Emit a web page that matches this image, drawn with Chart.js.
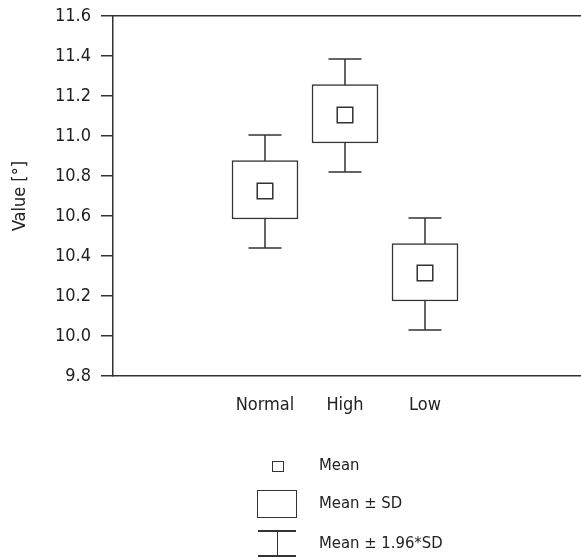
<!DOCTYPE html>
<html>
    <head>
        <meta charset="UTF-8">
        <script src="https://cdn.jsdelivr.net/npm/chart.js@4.4.1/dist/chart.umd.min.js"></script>
        <title> Value by group </title>
        <style>
            html, body { margin: 0; padding: 0; background: #fff; }
            .wrap { position: relative; width: 581px; height: 558px; overflow: hidden; }
            .legend { position: absolute; left: 0; top: 0; width: 581px; height: 558px; pointer-events: none;
                      font-family: 'Liberation Sans Narrow', 'DejaVu Sans Condensed', sans-serif; font-size: 16.5px; color: #222; }
            .legend .lbl { position: absolute; left: 319px; line-height: 18px; }
            .legend .sym { position: absolute; box-sizing: border-box; border: 1.5px solid #333; }
            .legend .ln { position: absolute; background: #333; }
        </style>
    </head>

    <body>
        <div class="wrap">
            <canvas id="main-plot" width="581" height="558"></canvas>

            <!-- legenda desenhada em HTML -->
            <div class="legend">
                <div class="sym" style="left:272px; top:461px; width:12px; height:11px;"></div>
                <div class="lbl" style="top:456px;">Mean</div>

                <div class="sym" style="left:257px; top:490px; width:40px; height:28px;"></div>
                <div class="lbl" style="top:494px;">Mean ± SD</div>

                <div class="ln" style="left:258px; top:530px; width:38px; height:1.5px;"></div>
                <div class="ln" style="left:276.5px; top:530px; width:1.5px; height:26px;"></div>
                <div class="ln" style="left:258px; top:555px; width:38px; height:1.5px;"></div>
                <div class="lbl" style="top:534px;">Mean ± 1.96*SD</div>
            </div>
        </div>

        <script>
            // valores
            const groups      = ['Normal', 'High', 'Low'];
            const positions   = [1, 2, 3];
            const means       = [10.725, 11.105, 10.315];
            const sdLow       = [10.585, 10.965, 10.175];
            const sdHigh      = [10.877, 11.257, 10.462];
            const whiskerLow  = [10.440, 10.820, 10.030];
            const whiskerHigh = [11.005, 11.385, 10.590];
            const yTicks      = [9.8, 10.0, 10.2, 10.4, 10.6, 10.8, 11.0, 11.2, 11.4, 11.6];

            const FONT = "'Liberation Sans Narrow', 'DejaVu Sans Condensed', sans-serif";
            const INK  = '#333';

            // desenha as hastes (media +- 1.96*SD) usando as escalas do chart
            const whiskers = {
                id: 'whiskers',
                beforeDatasetsDraw(chart) {
                    const ctx = chart.ctx;
                    const xs = chart.scales.x, ys = chart.scales.y;
                    ctx.save();
                    ctx.strokeStyle = INK;
                    ctx.lineWidth = 1.5;
                    positions.forEach((p, i) => {
                        const x  = xs.getPixelForValue(p);
                        const y1 = ys.getPixelForValue(whiskerHigh[i]);
                        const y2 = ys.getPixelForValue(whiskerLow[i]);
                        const half = 16.5;
                        ctx.beginPath();
                        ctx.moveTo(x, y1); ctx.lineTo(x, y2);
                        ctx.moveTo(x - half, y1); ctx.lineTo(x + half, y1);
                        ctx.moveTo(x - half, y2); ctx.lineTo(x + half, y2);
                        ctx.stroke();
                    });
                    ctx.restore();
                }
            };

            window.onload = () =>
            {
                const ctx = document.getElementById('main-plot').getContext('2d');

                new Chart(ctx,
                {
                    data:
                    {
                        datasets:
                        [{
                            type: 'scatter',
                            label: 'Mean',
                            data: positions.map((p, i) => ({ x: p, y: means[i] })),
                            pointStyle: 'rect',
                            pointRadius: 11,
                            pointBorderWidth: 1.5,
                            pointBorderColor: INK,
                            pointBackgroundColor: '#fff',
                            order: 0
                        },
                        {
                            type: 'bar',
                            label: 'Mean ± SD',
                            data: positions.map((p, i) => ({ x: p, y: [sdLow[i], sdHigh[i]] })),
                            backgroundColor: '#fff',
                            borderColor: INK,
                            borderWidth: 1.5,
                            borderSkipped: false,
                            barThickness: 66,
                            order: 1
                        }]
                    },
                    plugins: [whiskers],
                    options:
                    {
                        responsive: false,
                        animation: false,
                        devicePixelRatio: 1,
                        layout: { autoPadding: false, padding: 0 },
                        plugins: { legend: { display: false }, tooltip: { enabled: false } },
                        scales:
                        {
                            x: {
                                type: 'linear',
                                position: 'bottom',
                                offset: false,
                                min: -0.9,
                                max: 4.95,
                                afterBuildTicks: (s) => { s.ticks = positions.map(v => ({ value: v })); },
                                afterFit: (s) => { s.height = 182; s.paddingRight = 0; s.paddingLeft = 0; },
                                grid: { display: false, offset: false },
                                border: { display: true, color: INK, width: 1.5 },
                                ticks: {
                                    callback: (v) => groups[positions.indexOf(v)],
                                    color: '#222',
                                    padding: 11,
                                    font: { family: FONT, size: 18 }
                                }
                            },
                            x2: {
                                type: 'linear',
                                position: 'top',
                                offset: false,
                                min: -0.9,
                                max: 4.95,
                                afterFit: (s) => { s.height = 16; s.paddingRight = 0; s.paddingLeft = 0; },
                                grid: { display: false },
                                border: { display: true, color: INK, width: 1.5 },
                                ticks: { display: false }
                            },
                            y: {
                                min: 9.8,
                                max: 11.6,
                                afterBuildTicks: (s) => { s.ticks = yTicks.map(v => ({ value: v })); },
                                afterFit: (s) => { s.width = 113; s.paddingTop = 0; s.paddingBottom = 0; },
                                grid: { drawOnChartArea: false, tickLength: 12, color: INK, lineWidth: 1.5 },
                                border: { display: true, color: INK, width: 1.5 },
                                ticks: {
                                    callback: (v) => v.toFixed(1),
                                    color: '#222',
                                    padding: 10,
                                    font: { family: FONT, size: 18 }
                                },
                                title: {
                                    display: true,
                                    text: 'Value [°]',
                                    color: '#222',
                                    padding: { top: 10, bottom: 0 },
                                    font: { family: FONT, size: 18 }
                                }
                            }
                        }
                    }
                });
            }
        </script>
    </body>
</html>
